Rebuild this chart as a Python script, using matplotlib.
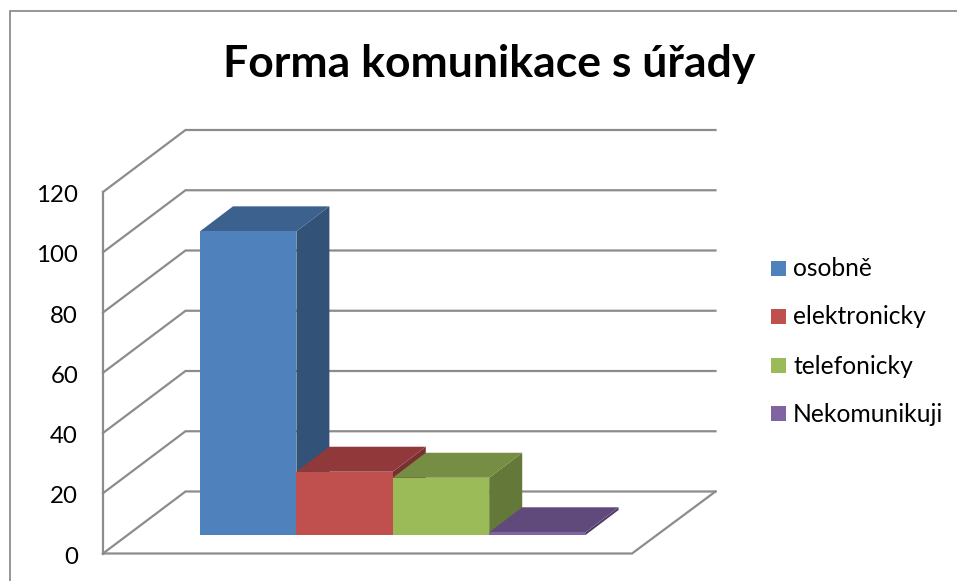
#!/usr/bin/env python3
"""Pseudo-3D column chart, Excel style: Forma komunikace s urady."""
import matplotlib
matplotlib.use("Agg")
import matplotlib.pyplot as plt
from matplotlib.patches import Polygon, Rectangle

plt.rcParams["font.family"] = ["Lato", "DejaVu Sans"]

TITLE = "Forma komunikace s úřady"
categories = ["osobně", "elektronicky", "telefonicky", "Nekomunikuji"]
values = [100.8, 21, 19, 0.9]
tick_values = [0, 20, 40, 60, 80, 100, 120]

front_colors = ["#4F81BD", "#C0504D", "#9BBB59", "#8064A2"]
top_colors = ["#3C618F", "#91393A", "#758E43", "#604A7B"]
side_colors = ["#325278", "#7A3030", "#637839", "#4F3D66"]

W, H = 957, 581
GRID = "#8C8C8C"
PX_PER_UNIT = (553.5 - 192) / 120   # vertical scale of the value axis
Y0 = 553.5                          # pixel row of value 0


def v(px_y):
    """Pixel row -> data value; x data coords are plain pixels."""
    return (Y0 - px_y) / PX_PER_UNIT


fig = plt.figure(figsize=(W / 100, H / 100), dpi=100)
ax = fig.add_axes([0, 0, 1, 1])
ax.set_xlim(0, W)
ax.set_ylim(v(H), v(0))
ax.axis("off")

# chart frame, runs off the right and bottom of the crop
ax.plot([10, 10, W + 5], [v(H + 5), v(11), v(11)], color="#8E8E8E", lw=1.3,
        solid_joinstyle="miter")

# walls: depth is 82 px across and 62 px up
dy = 62 / PX_PER_UNIT
x_front, x_back, x_end = 103, 185.5, 715.5
for t in tick_values:
    ax.plot([x_front, x_back, x_end], [t, t + dy, t + dy], color=GRID, lw=1.6,
            solid_joinstyle="miter", zorder=1)
    ax.text(78, t - 1.2, str(t), ha="right", va="center", fontsize=17.3,
            color="black")
ax.plot([x_front, x_front], [0, tick_values[-1]], color=GRID, lw=1.6, zorder=1)
ax.plot([x_front, 632, x_end], [0, 0, dy], color=GRID, lw=1.6,
        solid_joinstyle="miter", zorder=1)

# bars, shifted into the floor; later bars sit in front of earlier side faces
bar_w = 96.4
bar_left = 200
floor = v(535)
off_x, off_y = 33, 25 / PX_PER_UNIT
for i, val in enumerate(values):
    l = bar_left + i * bar_w
    r = l + bar_w
    top = floor + val
    z = 5 + i
    ax.add_patch(Polygon([(r, floor), (r + off_x, floor + off_y),
                          (r + off_x, top + off_y), (r, top)],
                         fc=side_colors[i], ec="none", zorder=z))
    ax.add_patch(Polygon([(l, top), (r, top), (r + off_x, top + off_y),
                          (l + off_x, top + off_y)],
                         fc=top_colors[i], ec="none", zorder=z))
    ax.add_patch(Rectangle((l, floor), bar_w, val, fc=front_colors[i],
                           ec="none", zorder=z + 0.5))

ax.text(489.5, v(64.5), TITLE, ha="center", va="center", fontsize=32,
        fontweight="bold", color="black")

# legend
leg_rows = [269, 317, 366, 414]
for name, row, c in zip(categories, leg_rows, front_colors):
    ax.add_patch(Rectangle((771, v(row + 6.5)), 15, 15 / PX_PER_UNIT, fc=c,
                           ec="none", zorder=12))
    ax.text(793, v(row), name, ha="left", va="center", fontsize=17.7,
            color="black")

fig.savefig("out.png", dpi=100)
